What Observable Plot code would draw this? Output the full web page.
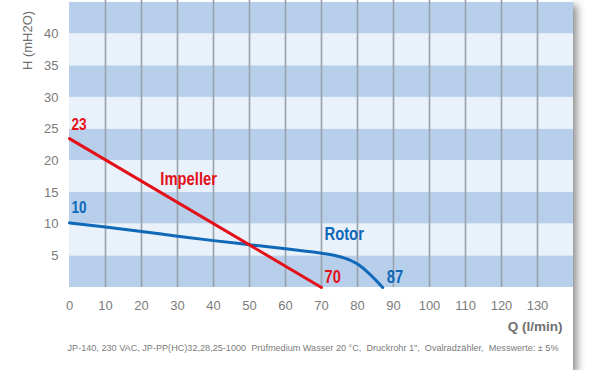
<!DOCTYPE html>
<html>
<head>
<meta charset="utf-8">
<script src="https://cdn.jsdelivr.net/npm/d3@7"></script>
<script src="https://cdn.jsdelivr.net/npm/@observablehq/plot@0.6"></script>
<style>
  html, body { margin: 0; padding: 0; background: #fff; }
  #chart { width: 573px; height: 370px; box-shadow: 4px 5px 8px rgba(0,0,0,0.45); background: #fff; }
  #chart svg { display: block; }
</style>
</head>
<body>
<div id="chart"></div>
<script>
// Data
const impellerQ = [0, 70];
const impellerH = [23.5, 0];
const rotorQ = [0, 10, 20, 30, 40, 50, 60, 70, 74, 78, 80, 82.5, 84.5, 86, 87];
const rotorH = [10.2, 9.55, 8.85, 8.1, 7.4, 6.75, 6.1, 5.4, 5.0, 4.3, 3.7, 2.6, 1.5, 0.6, 0];
const xTicks = [0, 10, 20, 30, 40, 50, 60, 70, 80, 90, 100, 110, 120, 130];
const yTicks = [5, 10, 15, 20, 25, 30, 35, 40];
const darkBands = [0, 10, 20, 30, 40];
const lightBands = [5, 15, 25, 35];
// Annotation labels (text, anchor position in data coordinates, series)
const startLabels = ["23", "10"];
const startLabelH = [25.7, 12.6];
const startLabelSeries = ["Impeller", "Rotor"];
const nameLabels = ["Impeller", "Rotor"];
const nameLabelQ = [33.1, 76.3];
const nameLabelH = [17.1, 8.4];
const endLabels = ["70", "87"];
const endLabelQ = [73.1, 90.4];
const endLabelH = [1.65, 1.65];
const endLabelSeries = ["Impeller", "Rotor"];
const yTitle = "H (mH2O)";
const xTitle = "Q (l/min)";
const footer = "JP-140, 230 VAC, JP-PP(HC)32,28,25-1000  Prüfmedium Wasser 20 °C,  Druckrohr 1\",  Ovalradzähler,  Messwerte: ± 5%";

const colors = {Impeller: "#e3101a", Rotor: "#0f68b8"};
const impeller = impellerQ.map((q, i) => ({q, h: impellerH[i]}));
const rotor = rotorQ.map((q, i) => ({q, h: rotorH[i]}));
const band = (arr) => arr.map(v => ({y1: v, y2: Math.min(v + 5, 45.3)}));
const starts = startLabels.map((t, i) => ({t, q: 0, h: startLabelH[i], s: startLabelSeries[i]}));
const names = nameLabels.map((t, i) => ({t, q: nameLabelQ[i], h: nameLabelH[i], s: nameLabels[i]}));
const ends = endLabels.map((t, i) => ({t, q: endLabelQ[i], h: endLabelH[i], s: endLabelSeries[i]}));

const boldFont = "'Liberation Sans', Arial, sans-serif";
const chart = Plot.plot({
  width: 573,
  height: 370,
  marginLeft: 69,
  marginRight: 0,
  marginTop: 0,
  marginBottom: 83,
  style: {fontFamily: "'Liberation Sans', Arial, sans-serif", background: "#fff"},
  x: {domain: [0, 140], ticks: xTicks},
  y: {domain: [0, 45.3], ticks: yTicks},
  marks: [
    Plot.rect(band(darkBands), {x1: 0, x2: 140, y1: "y1", y2: "y2", fill: "#b7cfeb"}),
    Plot.rect(band(lightBands), {x1: 0, x2: 140, y1: "y1", y2: "y2", fill: "#e9f1fb"}),
    Plot.ruleX(xTicks.filter(t => t > 0), {stroke: "#9aa2ab", strokeWidth: 1.6}),
    Plot.axisX({ticks: xTicks, tickSize: 0, tickPadding: 13, fontSize: 13, color: "#7b7b7b", label: null}),
    Plot.axisY({ticks: yTicks, tickSize: 0, tickPadding: 11, fontSize: 13, color: "#7b7b7b", label: null}),
    Plot.line(rotor, {x: "q", y: "h", stroke: colors.Rotor, strokeWidth: 3, curve: "monotone-x"}),
    Plot.line(impeller, {x: "q", y: "h", stroke: colors.Impeller, strokeWidth: 3}),
    Plot.text(starts, {x: "q", y: "h", text: "t", fill: d => colors[d.s], textAnchor: "start", dx: 2,
      fontSize: 16.5, fontWeight: "bold", fontFamily: boldFont, className: "cond"}),
    Plot.text(names, {x: "q", y: "h", text: "t", fill: d => colors[d.s], textAnchor: "middle",
      fontSize: 18, fontWeight: "bold", fontFamily: boldFont, className: "cond"}),
    Plot.text(ends, {x: "q", y: "h", text: "t", fill: d => colors[d.s], textAnchor: "middle",
      fontSize: 18, fontWeight: "bold", fontFamily: boldFont, className: "cond"}),
    Plot.text([yTitle], {frameAnchor: "top-left", textAnchor: "middle", lineAnchor: "middle", dx: -42, dy: 40, rotate: -90, fontSize: 13, fill: "#707070"}),
    Plot.text([xTitle], {frameAnchor: "bottom-right", textAnchor: "end", lineAnchor: "middle", dx: -11, dy: 39, fontSize: 13.5, fontWeight: "bold", fill: "#707070"}),
    Plot.text([footer], {frameAnchor: "bottom-left", textAnchor: "start", lineAnchor: "middle", dx: -2, dy: 61, fontSize: 9.3, fill: "#7b7b7b", className: "footer"})
  ]
});
document.getElementById("chart").appendChild(chart);

// Condense the bold annotations and fit the footer like the reference's narrow typeface
d3.select(chart).selectAll(".cond text").each(function() {
  const w = this.getComputedTextLength();
  this.setAttribute("textLength", (w * 0.82).toFixed(1));
  this.setAttribute("lengthAdjust", "spacingAndGlyphs");
});
d3.select(chart).selectAll(".footer text").each(function() {
  this.setAttribute("textLength", "491");
  this.setAttribute("lengthAdjust", "spacingAndGlyphs");
});
</script>
</body>
</html>
